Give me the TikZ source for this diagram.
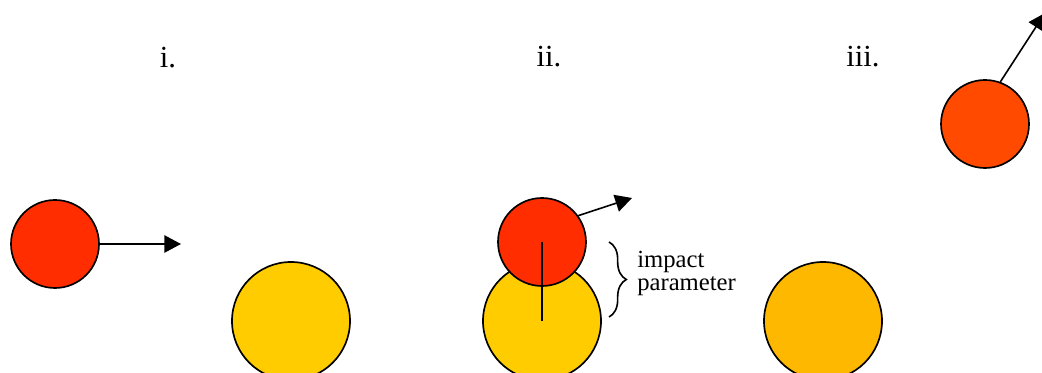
\documentclass[tikz,border=0pt]{standalone}
\usepackage{fontspec}
\setmainfont{Liberation Serif}
\usetikzlibrary{arrows.meta,decorations.pathreplacing}
\definecolor{projred}{RGB}{255,45,0}
\definecolor{projorange}{RGB}{255,74,0}
\definecolor{targyellow}{RGB}{255,204,0}
\definecolor{targamber}{RGB}{255,184,0}
\begin{document}
\begin{tikzpicture}[x=0.75pt, y=-0.75pt,
  ball/.style={circle, draw, line width=1.25pt, inner sep=0pt, minimum size=66pt},
  target/.style={ball, minimum size=88.5pt},
  push/.style={-{Triangle[length=12.5pt,width=13pt]}, line width=1.2pt},
  stage/.style={font=\fontsize{23}{26}\selectfont, anchor=base},
  note/.style={font=\fontsize{18.5}{17.3}\selectfont, align=left, anchor=west, inner sep=0pt}]
\useasboundingbox (0,0) rectangle (1042,373);
\node[stage] (st1) at (168,68) {i.};
\node[stage] (st2) at (549,67) {ii.};
\node[stage] (st3) at (863,67) {iii.};
\node[target, fill=targyellow] (targ1) at (291,321) {};
\node[ball, fill=projred]      (proj1) at (55,244)  {};
\coordinate (tip1) at (181,244);
\draw[push] (proj1.east) -- (tip1);
\node[target, fill=targyellow] (targ2) at (542,321) {};
\node[ball, fill=projred]      (proj2) at (542,242) {};
\coordinate (tip2) at (632,198);
\draw[push] (proj2.36) -- (tip2);
\draw[line width=1.2pt] (proj2.center) -- (targ2.center);
\coordinate (brtop) at (609,242);
\coordinate (brbot) at (609,317);
\draw[line width=1.2pt, decorate, decoration={brace, amplitude=13pt}] (brtop) -- (brbot);
\node[note] (imp) at (637,273) {impact\\parameter};
\node[target, fill=targamber]  (targ3) at (823,321) {};
\node[ball, fill=projorange]   (proj3) at (985,124) {};
\coordinate (tip3) at (1045,13);
\draw[push] (proj3.70) -- (tip3);
\end{tikzpicture}
\end{document}
